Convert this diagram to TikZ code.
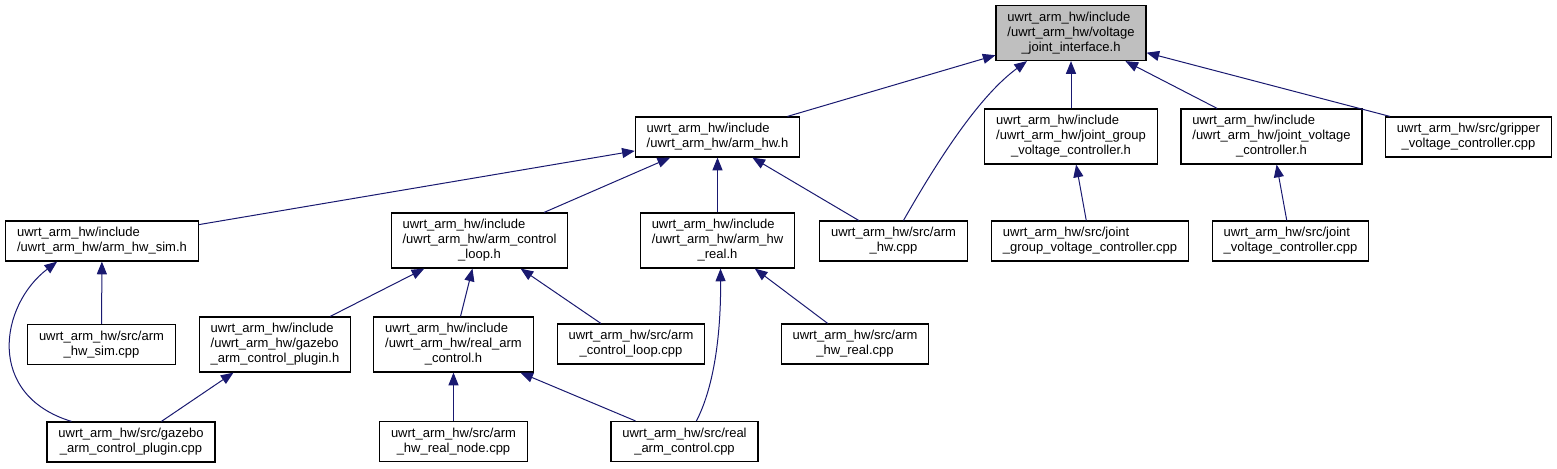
\documentclass[tikz,border=0pt]{standalone}
\usepackage{fontspec}
\setmainfont{Liberation Sans}
\usetikzlibrary{arrows.meta,calc}
\definecolor{edgeblue}{HTML}{191970}
\definecolor{rootgray}{HTML}{BFBFBF}
% lines of a file name: all left, the last one centred
\newcommand{\flbl}[2]{\begin{tabular}{@{}l@{}}#1\\\multicolumn{1}{@{}c@{}}{#2}\end{tabular}}
\tikzset{
  file/.style={draw,rectangle,fill=white,line width=0.9pt,inner xsep=8.5pt,inner ysep=3.75pt,font=\fontsize{9.75}{11.25}\selectfont},
  inc/.style={->,draw=edgeblue,line width=0.75pt},
}
\begin{document}
\begin{tikzpicture}[x=0.75pt,y=-0.75pt,>={Triangle[length=9.5pt,width=7.5pt]}]
    \useasboundingbox (0,0) rectangle (1557,468);

    \node[file,fill=rootgray] (root) at (1071,33) {\flbl{uwrt\_arm\_hw/include\\/uwrt\_arm\_hw/voltage}{\_joint\_interface.h}};

    \node[file] (armhwh) at (717.5,137) {\flbl{uwrt\_arm\_hw/include}{/uwrt\_arm\_hw/arm\_hw.h}};
    \node[file] (jgvch) at (1071,136.5) {\flbl{uwrt\_arm\_hw/include\\/uwrt\_arm\_hw/joint\_group}{\_voltage\_controller.h}};
    \node[file] (jvch) at (1271.5,136.5) {\flbl{uwrt\_arm\_hw/include\\/uwrt\_arm\_hw/joint\_voltage}{\_controller.h}};
    \node[file] (grippercpp) at (1468.5,137) {\flbl{uwrt\_arm\_hw/src/gripper}{\_voltage\_controller.cpp}};

    \node[file] (simh) at (102,241) {\flbl{uwrt\_arm\_hw/include}{/uwrt\_arm\_hw/arm\_hw\_sim.h}};
    \node[file] (looph) at (479.5,240.5) {\flbl{uwrt\_arm\_hw/include\\/uwrt\_arm\_hw/arm\_control}{\_loop.h}};
    \node[file] (realh) at (717.5,240.5) {\flbl{uwrt\_arm\_hw/include\\/uwrt\_arm\_hw/arm\_hw}{\_real.h}};
    \node[file] (armcpp) at (893.5,241) {\flbl{uwrt\_arm\_hw/src/arm}{\_hw.cpp}};
    \node[file] (jgvccpp) at (1090,241) {\flbl{uwrt\_arm\_hw/src/joint}{\_group\_voltage\_controller.cpp}};
    \node[file] (jvccpp) at (1290.5,241) {\flbl{uwrt\_arm\_hw/src/joint}{\_voltage\_controller.cpp}};

    \node[file] (simcpp) at (101.5,344.5) {\flbl{uwrt\_arm\_hw/src/arm}{\_hw\_sim.cpp}};
    \node[file] (gazeboh) at (275,344.5) {\flbl{uwrt\_arm\_hw/include\\/uwrt\_arm\_hw/gazebo}{\_arm\_control\_plugin.h}};
    \node[file] (racth) at (453.5,344.5) {\flbl{uwrt\_arm\_hw/include\\/uwrt\_arm\_hw/real\_arm}{\_control.h}};
    \node[file] (loopcpp) at (631,344) {\flbl{uwrt\_arm\_hw/src/arm}{\_control\_loop.cpp}};
    \node[file] (realcpp) at (855,344) {\flbl{uwrt\_arm\_hw/src/arm}{\_hw\_real.cpp}};

    \node[file] (gazebocpp) at (131,442) {\flbl{uwrt\_arm\_hw/src/gazebo}{\_arm\_control\_plugin.cpp}};
    \node[file] (nodecpp) at (453.5,441.5) {\flbl{uwrt\_arm\_hw/src/arm}{\_hw\_real\_node.cpp}};
    \node[file] (ractcpp) at (684.5,441.5) {\flbl{uwrt\_arm\_hw/src/real}{\_arm\_control.cpp}};

    % includes, drawn from the including file to the included one
    \draw[inc] (armhwh)--(root); \draw[inc] (jgvch)--(root); \draw[inc] (jvch)--(root); \draw[inc] (grippercpp)--(root);
    \draw[inc] ($(armcpp.north)+(10,0)$) .. controls (943,151) and (982,94) .. ($(root.south)+(-44,0)$);
    \draw[inc] (simh)--(armhwh); \draw[inc] (looph)--(armhwh); \draw[inc] (realh)--(armhwh); \draw[inc] (armcpp)--(armhwh);
    \draw[inc] (jgvccpp)--(jgvch); \draw[inc] (jvccpp)--(jvch);
    \draw[inc] (simcpp)--(simh);
    \draw[inc] ($(gazebocpp.north west)+(25,0)$) .. controls (-15,395) and (0,305) .. ($(simh.south west)+(52,0)$);
    \draw[inc] (gazeboh)--(looph); \draw[inc] (racth)--(looph); \draw[inc] (loopcpp)--(looph);
    \draw[inc] (realcpp)--(realh);
    \draw[inc] ($(ractcpp.north west)+(86,0)$) .. controls (715,385) and (721,330) .. ($(realh.south)+(3,0)$);
    \draw[inc] (gazebocpp)--(gazeboh);
    \draw[inc] (nodecpp)--(racth); \draw[inc] (ractcpp)--(racth);
\end{tikzpicture}
\end{document}
